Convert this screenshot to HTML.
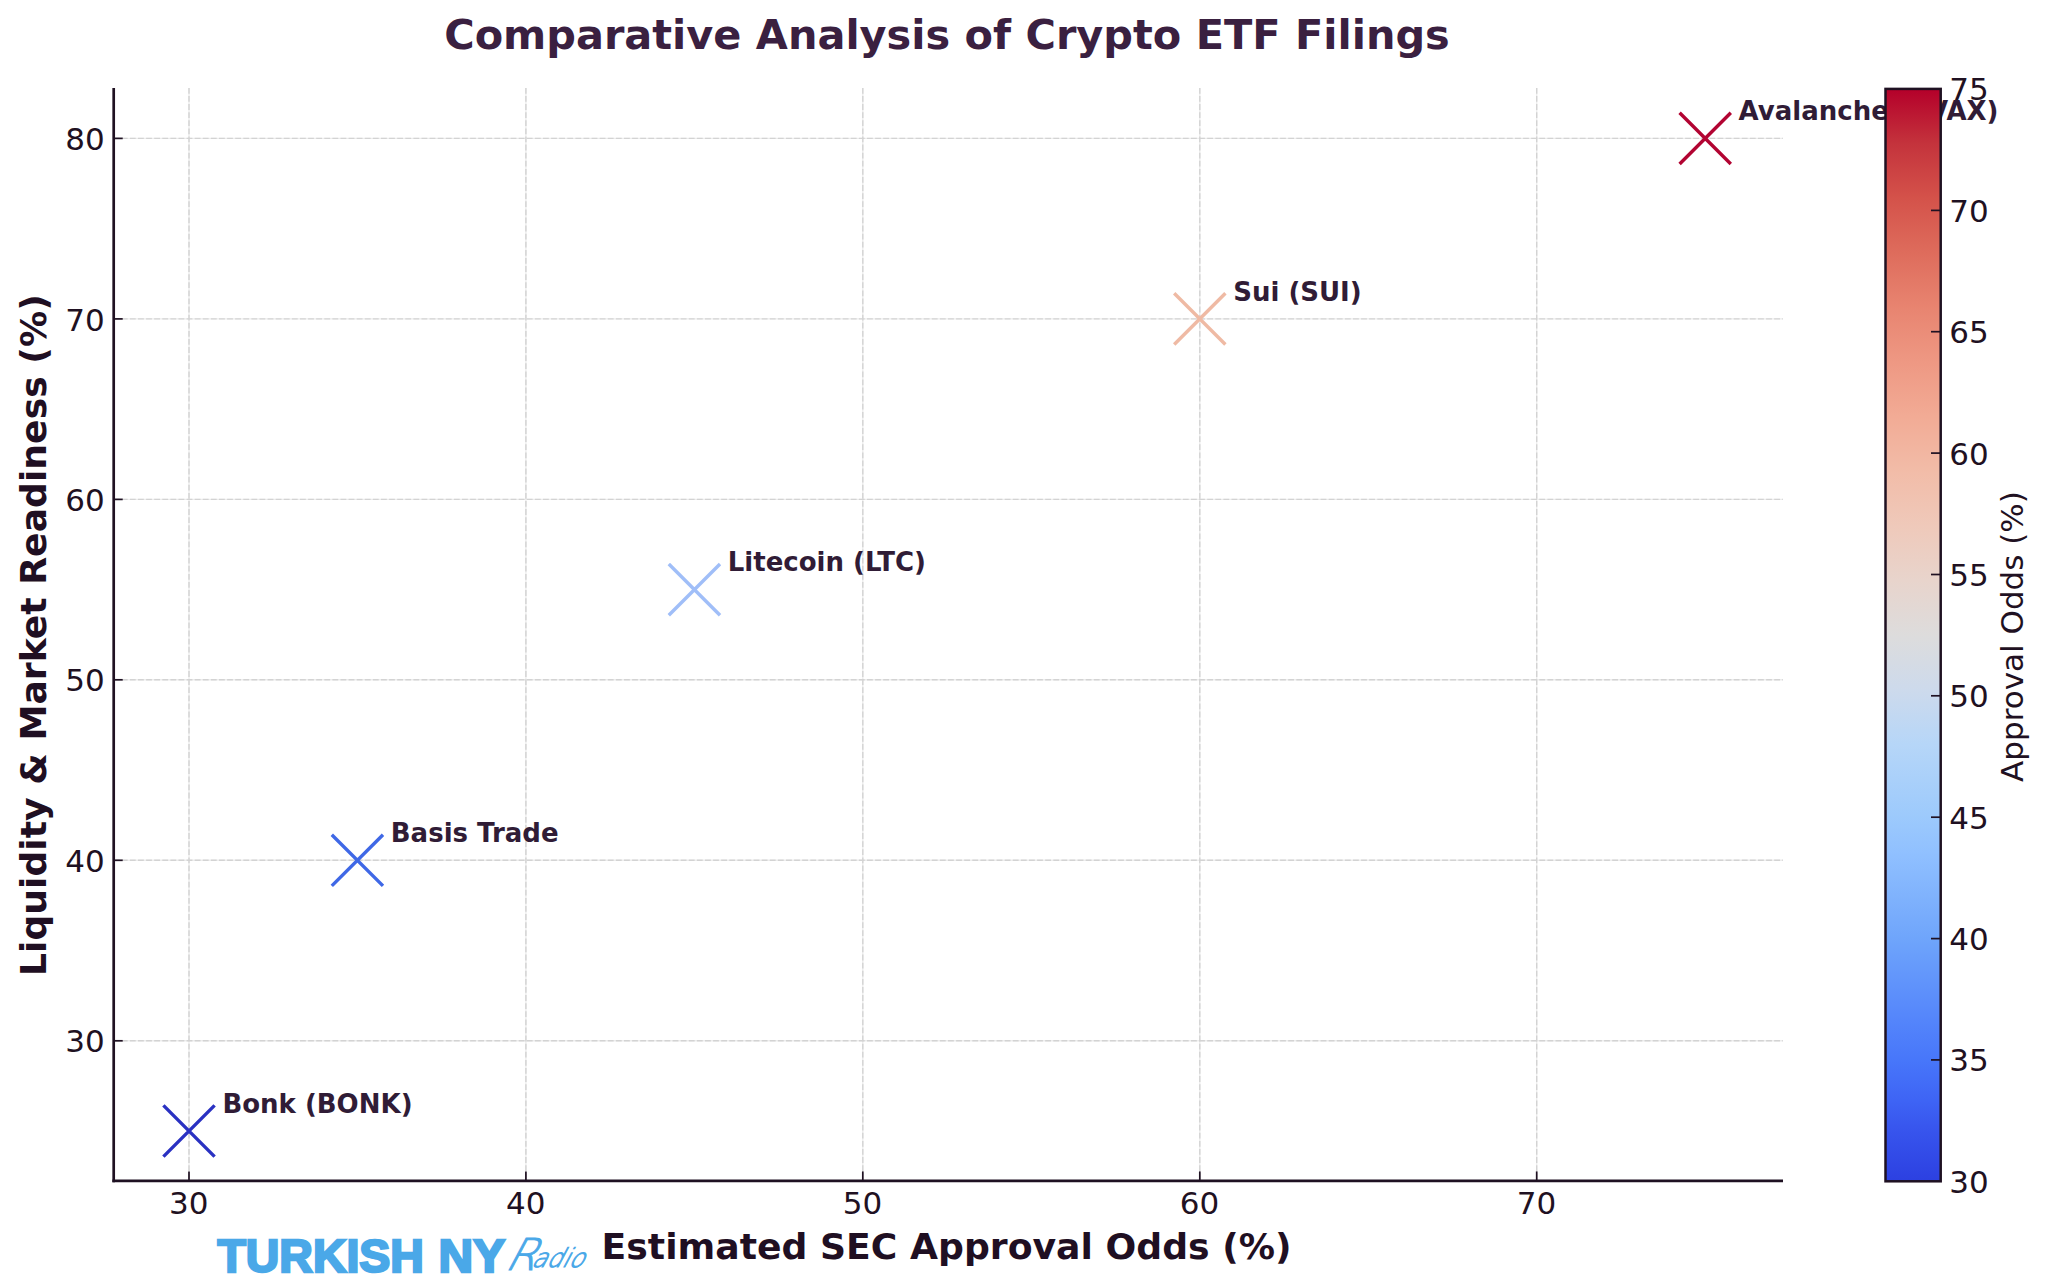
<!DOCTYPE html>
<html lang="en">
<head>
<meta charset="utf-8">
<title>Comparative Analysis of Crypto ETF Filings</title>
<style>
html,body{margin:0;padding:0;background:#fff;}
body{width:2048px;height:1285px;overflow:hidden;}
svg{display:block;}
text{font-family:"DejaVu Sans","Liberation Sans",sans-serif;}
.tick{font-size:31px;fill:#1f1122;}
.bold{font-weight:bold;}
.ann{font-size:26px;font-weight:bold;fill:#301c36;}
.grid line{stroke:#d3d3d3;stroke-width:1.4;stroke-dasharray:5.8 2.3;}
.gridu line{stroke:#ededed;stroke-width:1.4;}
</style>
</head>
<body>
<svg width="2048" height="1285" viewBox="0 0 2048 1285">
<defs>
<linearGradient id="cw" x1="0" y1="1" x2="0" y2="0">
<stop offset="0" stop-color="#2c40e1"/>
<stop offset="0.05" stop-color="#3856ee"/>
<stop offset="0.074" stop-color="#3e64f5"/>
<stop offset="0.11" stop-color="#4776fa"/>
<stop offset="0.15" stop-color="#5586fb"/>
<stop offset="0.22" stop-color="#6ea4fb"/>
<stop offset="0.3" stop-color="#90c0ff"/>
<stop offset="0.335" stop-color="#9dcafc"/>
<stop offset="0.4" stop-color="#b6d6f8"/>
<stop offset="0.45" stop-color="#cddaec"/>
<stop offset="0.5" stop-color="#dddcdc"/>
<stop offset="0.55" stop-color="#e8d4cc"/>
<stop offset="0.6" stop-color="#efc9ba"/>
<stop offset="0.65" stop-color="#f2bca8"/>
<stop offset="0.7" stop-color="#f2ab95"/>
<stop offset="0.75" stop-color="#ee9883"/>
<stop offset="0.8" stop-color="#e88470"/>
<stop offset="0.85" stop-color="#de6c5c"/>
<stop offset="0.9" stop-color="#d4524a"/>
<stop offset="0.95" stop-color="#c4333c"/>
<stop offset="1" stop-color="#b4002a"/>
</linearGradient>
</defs>
<rect width="2048" height="1285" fill="#ffffff"/>
<text id="title" class="bold" x="947" y="49" text-anchor="middle" font-size="41.45" fill="#3a2040">Comparative Analysis of Crypto ETF Filings</text>
<g class="gridu">
<line x1="189.0" y1="87.9" x2="189.0" y2="1180.9"/>
<line x1="525.9" y1="87.9" x2="525.9" y2="1180.9"/>
<line x1="862.8" y1="87.9" x2="862.8" y2="1180.9"/>
<line x1="1199.8" y1="87.9" x2="1199.8" y2="1180.9"/>
<line x1="1536.7" y1="87.9" x2="1536.7" y2="1180.9"/>
<line x1="113.7" y1="1040.8" x2="1783.0" y2="1040.8"/>
<line x1="113.7" y1="860.3" x2="1783.0" y2="860.3"/>
<line x1="113.7" y1="679.8" x2="1783.0" y2="679.8"/>
<line x1="113.7" y1="499.4" x2="1783.0" y2="499.4"/>
<line x1="113.7" y1="318.9" x2="1783.0" y2="318.9"/>
<line x1="113.7" y1="138.4" x2="1783.0" y2="138.4"/>
</g>
<g class="grid" id="grid">
<line x1="189.0" y1="87.9" x2="189.0" y2="1180.9"/>
<line x1="525.9" y1="87.9" x2="525.9" y2="1180.9"/>
<line x1="862.8" y1="87.9" x2="862.8" y2="1180.9"/>
<line x1="1199.8" y1="87.9" x2="1199.8" y2="1180.9"/>
<line x1="1536.7" y1="87.9" x2="1536.7" y2="1180.9"/>
<line x1="113.7" y1="1040.8" x2="1783.0" y2="1040.8"/>
<line x1="113.7" y1="860.3" x2="1783.0" y2="860.3"/>
<line x1="113.7" y1="679.8" x2="1783.0" y2="679.8"/>
<line x1="113.7" y1="499.4" x2="1783.0" y2="499.4"/>
<line x1="113.7" y1="318.9" x2="1783.0" y2="318.9"/>
<line x1="113.7" y1="138.4" x2="1783.0" y2="138.4"/>
</g>
<g id="spines" stroke="#1f1122" stroke-width="2.7" fill="none">
<line x1="113.7" y1="87.9" x2="113.7" y2="1182.2"/>
<line x1="112.4" y1="1180.9" x2="1783.0" y2="1180.9"/>
</g>
<g id="ticks" stroke="#1f1122" stroke-width="1.7">
<line x1="189.0" y1="1171.4" x2="189.0" y2="1180.9"/>
<line x1="525.9" y1="1171.4" x2="525.9" y2="1180.9"/>
<line x1="862.8" y1="1171.4" x2="862.8" y2="1180.9"/>
<line x1="1199.8" y1="1171.4" x2="1199.8" y2="1180.9"/>
<line x1="1536.7" y1="1171.4" x2="1536.7" y2="1180.9"/>
<line x1="113.7" y1="1040.8" x2="122.7" y2="1040.8"/>
<line x1="113.7" y1="860.3" x2="122.7" y2="860.3"/>
<line x1="113.7" y1="679.8" x2="122.7" y2="679.8"/>
<line x1="113.7" y1="499.4" x2="122.7" y2="499.4"/>
<line x1="113.7" y1="318.9" x2="122.7" y2="318.9"/>
<line x1="113.7" y1="138.4" x2="122.7" y2="138.4"/>
</g>
<g class="tick" text-anchor="middle" id="xt">
<text x="188.8" y="1213.6">30</text>
<text x="525.7" y="1213.6">40</text>
<text x="862.6" y="1213.6">50</text>
<text x="1199.6" y="1213.6">60</text>
<text x="1536.5" y="1213.6">70</text>
</g>
<g class="tick" text-anchor="end" id="yt">
<text x="104.7" y="150.0">80</text>
<text x="104.7" y="330.5">70</text>
<text x="104.7" y="511.0">60</text>
<text x="104.7" y="691.4">50</text>
<text x="104.7" y="871.9">40</text>
<text x="104.7" y="1052.4">30</text>
</g>
<text id="xl" class="bold" x="946.6" y="1258.8" text-anchor="middle" font-size="36.2" fill="#1f0f22">Estimated SEC Approval Odds (%)</text>
<text id="yl" class="bold" transform="translate(45.6 635.2) rotate(-90)" text-anchor="middle" font-size="36.2" fill="#1f0f22">Liquidity &amp; Market Readiness (%)</text>
<g id="marks" stroke-width="3.4" fill="none" stroke-linecap="butt">
<path stroke="#2a31c2" d="M163.4 1105.4 L214.6 1156.6 M163.4 1156.6 L214.6 1105.4"/>
<path stroke="#3f68e6" d="M331.8 834.7 L383.0 885.9 M331.8 885.9 L383.0 834.7"/>
<path stroke="#a0bef8" d="M668.8 564.0 L720.0 615.2 M668.8 615.2 L720.0 564.0"/>
<path stroke="#efbaa4" d="M1174.2 293.3 L1225.4 344.5 M1174.2 344.5 L1225.4 293.3"/>
<path stroke="#b20432" d="M1679.6 112.8 L1730.8 164.0 M1679.6 164.0 L1730.8 112.8"/>
</g>
<g class="ann" id="anns">
<text x="222.4" y="1112.7">Bonk (BONK)</text>
<text x="390.8" y="842.0">Basis Trade</text>
<text x="727.8" y="571.3">Litecoin (LTC)</text>
<text x="1233.2" y="300.6">Sui (SUI)</text>
<text x="1738.6" y="120.1">Avalanche (AVAX)</text>
</g>
<rect id="cbar" x="1885.5" y="88.9" width="55.2" height="1092.4" fill="url(#cw)" stroke="#1f1122" stroke-width="2.5"/>
<g id="cticks" stroke="#1f1122" stroke-width="1.7">
<line x1="1931" y1="1059.9" x2="1940.5" y2="1059.9"/>
<line x1="1931" y1="938.6" x2="1940.5" y2="938.6"/>
<line x1="1931" y1="817.2" x2="1940.5" y2="817.2"/>
<line x1="1931" y1="695.8" x2="1940.5" y2="695.8"/>
<line x1="1931" y1="574.5" x2="1940.5" y2="574.5"/>
<line x1="1931" y1="453.1" x2="1940.5" y2="453.1"/>
<line x1="1931" y1="331.7" x2="1940.5" y2="331.7"/>
<line x1="1931" y1="210.4" x2="1940.5" y2="210.4"/>
</g>
<g class="tick" id="ct">
<text x="1949.2" y="1192.7">30</text>
<text x="1949.2" y="1071.3">35</text>
<text x="1949.2" y="950.0">40</text>
<text x="1949.2" y="828.6">45</text>
<text x="1949.2" y="707.2">50</text>
<text x="1949.2" y="585.9">55</text>
<text x="1949.2" y="464.5">60</text>
<text x="1949.2" y="343.1">65</text>
<text x="1949.2" y="221.8">70</text>
<text x="1949.2" y="100.4">75</text>
</g>
<text id="cl" transform="translate(2022.9 636.5) rotate(-90)" text-anchor="middle" font-size="31" fill="#1f1122">Approval Odds (%)</text>
<g id="logo" fill="#4aa8e8">
<text id="lg1" x="217.4" y="1272.2" textLength="206.5" lengthAdjust="spacingAndGlyphs" style="font-family:'Liberation Sans',sans-serif;font-weight:bold;font-size:46px" stroke="#4aa8e8" stroke-width="2.4" stroke-linejoin="miter">TURKISH</text>
<text id="lg1b" x="438.6" y="1272.2" textLength="66.5" lengthAdjust="spacingAndGlyphs" style="font-family:'Liberation Sans',sans-serif;font-weight:bold;font-size:46px" stroke="#4aa8e8" stroke-width="2.4">NY</text>
<text id="lg2" transform="translate(503.5 1269.5) skewX(-28)" style="font-family:'DejaVu Sans Light','DejaVu Sans',sans-serif;font-weight:200;font-size:26px" stroke="#4aa8e8" stroke-width="1"><tspan style="font-size:44px">R</tspan><tspan dx="-5" dy="-3" textLength="52" lengthAdjust="spacingAndGlyphs">adio</tspan></text>
</g>
</svg>
</body>
</html>
